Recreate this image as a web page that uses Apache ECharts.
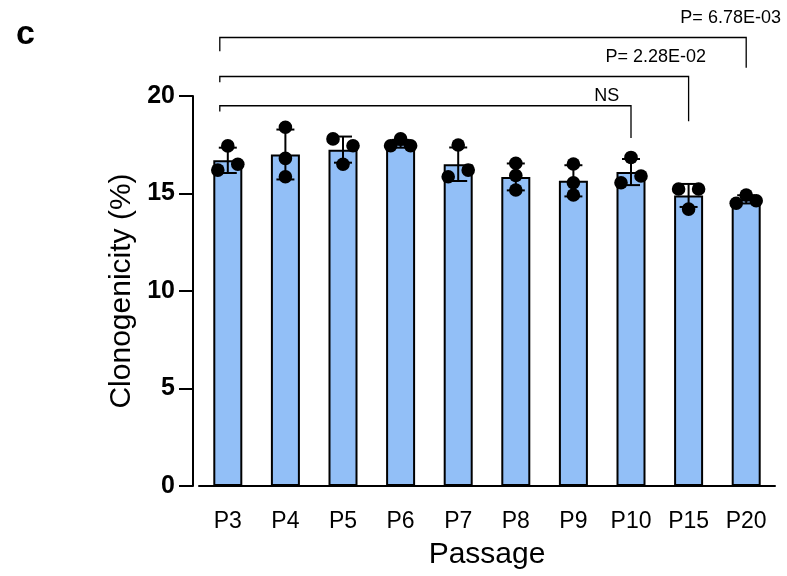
<!DOCTYPE html>
<html>
<head>
<meta charset="utf-8">
<script src="https://cdn.jsdelivr.net/npm/echarts@6/dist/echarts.min.js"></script>
<style>
  html, body { margin: 0; padding: 0; background: #fff; }
  #main { width: 787px; height: 576px; }
</style>
</head>
<body>
<div id="main"></div>
<script>
// passages on the x axis
const passages = ['P3', 'P4', 'P5', 'P6', 'P7', 'P8', 'P9', 'P10', 'P15', 'P20']
// bar height (mean) and SD error bar
const means = [16.7, 17.0, 17.25, 17.55, 16.5, 15.85, 15.65, 16.1, 14.9, 14.7]
const sds = [0.65, 1.28, 0.67, 0.2, 0.86, 0.69, 0.8, 0.67, 0.59, 0.21]
// three replicates per passage, in data order
const rep1 = [16.2, 18.4, 17.8, 17.45, 17.49, 16.55, 16.51, 16.85, 15.23, 14.5]
const rep2 = [17.44, 16.8, 17.45, 17.8, 15.86, 15.92, 15.55, 15.55, 15.23, 14.92]
const rep3 = [16.5, 15.86, 16.5, 17.45, 16.2, 15.18, 14.92, 15.9, 14.2, 14.63]
const yTicks = [0, 5, 10, 15, 20]

// comparison brackets
const bracketFrom = [0, 0, 0]
const bracketTo = [7, 8, 9]
const bracketLevel = [19.5, 21, 23]
const bracketLeftEnd = [19.2, 20.7, 22.3]
const bracketRightEnd = [17.85, 18.7, 21.45]
const bracketLabels = ['NS', 'P= 2.28E-02', 'P= 6.78E-03']
const bracketLabelX = [6.58, 7.43, 8.73]
const bracketLabelY = [20, 22, 24]

const FONT = 'Liberation Sans'
const chart = echarts.init(document.getElementById('main'))

function errorBarItem (params, api) {
  const i = api.value(0)
  const top = api.coord([i, api.value(1) + api.value(2)])
  const bot = api.coord([i, api.value(1) - api.value(2)])
  const w = 9
  const style = { stroke: '#000', lineWidth: 2 }
  return {
    type: 'group',
    children: [
      { type: 'line', shape: { x1: top[0], y1: top[1], x2: bot[0], y2: bot[1] }, style },
      { type: 'line', shape: { x1: top[0] - w, y1: top[1], x2: top[0] + w, y2: top[1] }, style },
      { type: 'line', shape: { x1: bot[0] - w, y1: bot[1], x2: bot[0] + w, y2: bot[1] }, style }
    ]
  }
}

// GraphPad-like spreading: dots closer than 10px are spread sideways
function dotsItem (params, api) {
  const i = api.value(0)
  const pts = [1, 2, 3].map(k => api.coord([i, api.value(k)]))
  const group = [0, 1, 2]
  const find = a => (group[a] === a ? a : find(group[a]))
  for (let a = 0; a < 3; a++) {
    for (let b = a + 1; b < 3; b++) {
      if (Math.abs(pts[a][1] - pts[b][1]) < 10) group[find(b)] = find(a)
    }
  }
  const members = {}
  pts.forEach((p, k) => {
    const r = find(k)
    ;(members[r] = members[r] || []).push(k)
  })
  const dx = [0, 0, 0]
  Object.values(members).forEach(m => {
    if (m.length === 2) { dx[m[0]] = -10; dx[m[1]] = 10 }
    if (m.length === 3) { dx[m[0]] = -10; dx[m[1]] = 0; dx[m[2]] = 10 }
  })
  return {
    type: 'group',
    children: pts.map((p, k) => ({
      type: 'circle',
      shape: { cx: p[0] + dx[k], cy: p[1], r: 6.8 },
      style: { fill: '#000' }
    }))
  }
}

// category axis rounds to whole indexes, so interpolate between two of them
function coordAt (api, k, y) {
  const i0 = Math.floor(k)
  const i1 = Math.min(i0 + 1, passages.length - 1)
  const p0 = api.coord([i0, y])
  const p1 = api.coord([i1, y])
  return [p0[0] + (p1[0] - p0[0]) * (k - i0), p0[1]]
}

function bracketItem (params, api) {
  const idx = params.dataIndex
  const a = api.coord([api.value(0), api.value(2)])
  const b = api.coord([api.value(1), api.value(2)])
  const aEnd = api.coord([api.value(0), api.value(3)])
  const bEnd = api.coord([api.value(1), api.value(4)])
  const lab = coordAt(api, api.value(5), api.value(6))
  const xl = a[0] - 8
  return {
    type: 'group',
    children: [
      {
        type: 'polyline',
        shape: { points: [[xl, aEnd[1]], [xl, a[1]], [b[0], b[1]], [b[0], bEnd[1]]] },
        style: { fill: 'none', stroke: '#000', lineWidth: 1.3 }
      },
      {
        type: 'text',
        x: lab[0],
        y: lab[1],
        style: { text: bracketLabels[idx], fill: '#000', font: '18px "' + FONT + '"', align: 'center', verticalAlign: 'middle' }
      }
    ]
  }
}

const option = {
  animation: false,
  backgroundColor: '#fff',
  textStyle: { fontFamily: FONT },
  title: {
    text: 'c',
    left: 11,
    top: 13,
    textStyle: { fontFamily: FONT, fontWeight: 'bold', fontSize: 34, color: '#000' }
  },
  grid: { left: 199, right: 12, top: 96, bottom: 90, containLabel: false, outerBoundsMode: 'none' },
  xAxis: {
    type: 'category',
    data: passages,
    name: 'Passage',
    nameLocation: 'middle',
    nameGap: 54,
    nameTextStyle: { fontFamily: FONT, fontSize: 30, color: '#000' },
    axisLine: { lineStyle: { color: '#000', width: 2 } },
    axisTick: { alignWithLabel: true, length: 15, lineStyle: { color: '#000', width: 2 } },
    axisLabel: { color: '#000', fontSize: 23, fontFamily: FONT, margin: 24 }
  },
  yAxis: {
    type: 'value',
    min: yTicks[0],
    max: yTicks[yTicks.length - 1],
    interval: 5,
    offset: 6,
    name: 'Clonogenicity (%)',
    nameLocation: 'middle',
    nameGap: 56,
    nameTextStyle: { fontFamily: FONT, fontSize: 30, color: '#000' },
    axisLine: { show: true, lineStyle: { color: '#000', width: 2 } },
    axisTick: { show: true, length: 14, lineStyle: { color: '#000', width: 2 } },
    axisLabel: { color: '#000', fontSize: 25, fontWeight: 'bold', fontFamily: FONT, margin: 18 },
    splitLine: { show: false }
  },
  series: [
    {
      type: 'bar',
      data: means,
      barWidth: 29,
      itemStyle: { color: '#92bff7', borderColor: '#000', borderWidth: 2 },
      z: 2
    },
    {
      type: 'custom',
      renderItem: errorBarItem,
      data: means.map((m, i) => [i, m, sds[i]]),
      z: 3
    },
    {
      type: 'custom',
      renderItem: dotsItem,
      data: passages.map((p, i) => [i, rep1[i], rep2[i], rep3[i]]),
      z: 4
    },
    {
      type: 'custom',
      renderItem: bracketItem,
      clip: false,
      data: bracketLevel.map((lv, i) => [bracketFrom[i], bracketTo[i], lv, bracketLeftEnd[i], bracketRightEnd[i], bracketLabelX[i], bracketLabelY[i]]),
      z: 5
    }
  ]
}
chart.setOption(option)
</script>
</body>
</html>
